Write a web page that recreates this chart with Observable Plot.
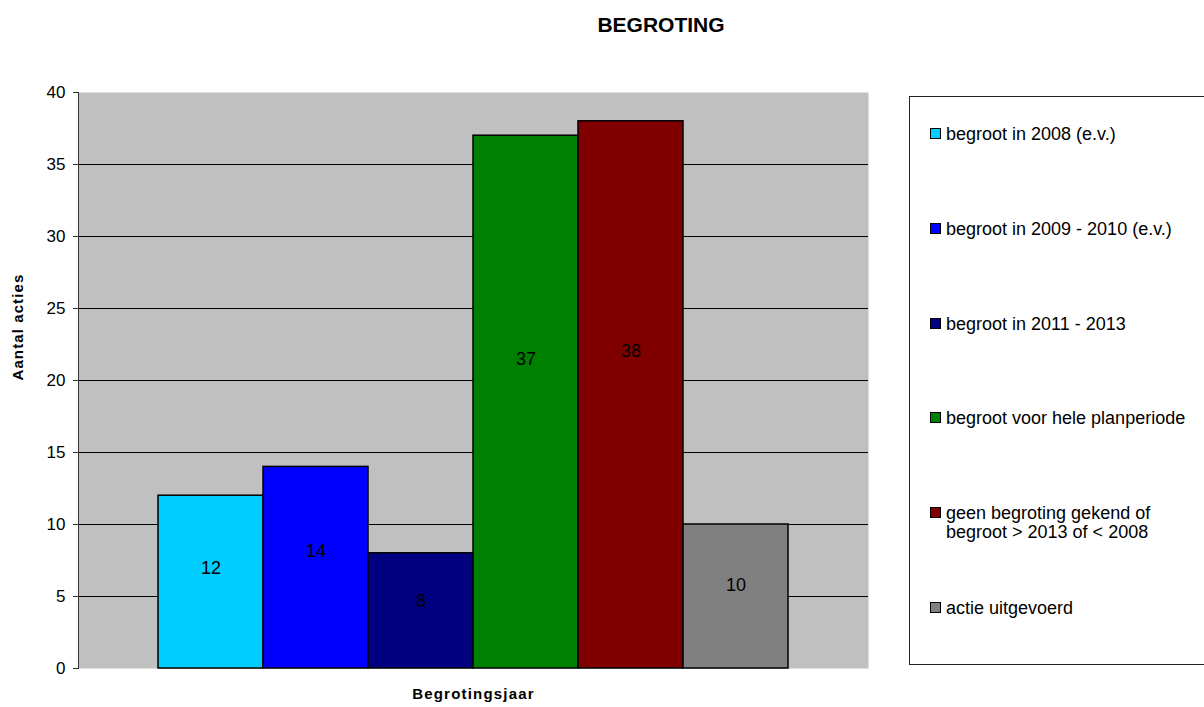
<!DOCTYPE html>
<html>
<head>
<meta charset="utf-8">
<script src="https://cdn.jsdelivr.net/npm/d3@7"></script>
<script src="https://cdn.jsdelivr.net/npm/@observablehq/plot@0.6"></script>
<style>
  html, body { margin: 0; padding: 0; background: #fff; }
  body { font-family: "Liberation Sans", Arial, sans-serif; }
  #wrap { position: relative; width: 1204px; height: 707px; overflow: hidden; }
  #title { position: absolute; left: 461px; width: 400px; top: 14px; text-align: center;
           font-size: 21px; line-height: 21px; font-weight: bold; color: #000; }
  #chart { position: absolute; left: 0; top: 60px; }
  #legend { position: absolute; left: 909px; top: 96px; width: 320px; height: 569px;
            border: 1px solid #222; box-sizing: border-box; }
  .item { position: absolute; left: 20px; font-size: 18px; line-height: 19px; color: #000; }
  .sw { position: absolute; left: 0; top: 3px; width: 9px; height: 9px; border: 1px solid #000; }
  .lt { position: absolute; left: 16px; white-space: nowrap; }
  .ylab text { letter-spacing: 1.1px; }
  .xlab text { letter-spacing: 1.2px; }
</style>
</head>
<body>
<div id="wrap">
  <div id="title"></div>
  <div id="chart"></div>
  <div id="legend"></div>
</div>
<script>
const title = "BEGROTING";
const categories = [
  "begroot in 2008 (e.v.)",
  "begroot in 2009 - 2010 (e.v.)",
  "begroot in 2011 - 2013",
  "begroot voor hele planperiode",
  "geen begroting gekend of\nbegroot > 2013 of < 2008",
  "actie uitgevoerd"
];
const values = [12, 14, 8, 37, 38, 10];
const colors = ["#00CCFF", "#0000FF", "#000080", "#008000", "#800000", "#808080"];
const yTicks = [0, 5, 10, 15, 20, 25, 30, 35, 40];
const gridValues = [5, 10, 15, 20, 25, 30, 35];
const yLabel = "Aantal acties";
const xLabel = "Begrotingsjaar";

const data = categories.map((c, i) => ({name: c, value: values[i]}));

document.getElementById("title").textContent = title;

const plot = Plot.plot({
  width: 880,
  height: 647,
  marginTop: 32,
  marginBottom: 39,
  marginLeft: 78,
  marginRight: 12,
  style: {fontFamily: "Liberation Sans, Arial, sans-serif", background: "transparent", color: "#000"},
  x: {domain: categories, paddingInner: 0, paddingOuter: 0.762, round: false, axis: null},
  y: {domain: [0, 40], axis: null},
  color: {domain: categories, range: colors},
  marks: [
    Plot.frame({fill: "#C0C0C0", stroke: null}),
    Plot.ruleY(gridValues, {stroke: "#000", strokeWidth: 1}),
    Plot.frame({anchor: "left", stroke: "#333", strokeWidth: 1}),
    Plot.axisY({ticks: yTicks, tickSize: 5, tickPadding: 8, fontSize: 17, label: null, stroke: "#333"}),
    Plot.barY(data, {x: "name", y: "value", fill: "name", stroke: "#000", strokeWidth: 1.5}),
    Plot.text(data, {x: "name", y: d => d.value * 0.58, text: d => String(d.value), fontSize: 18, fill: "#000"}),
    Plot.text([yLabel], {frameAnchor: "left", dx: -60, rotate: -90, fontWeight: "bold", fontSize: 15, fill: "#000", className: "ylab"}),
    Plot.text([xLabel], {frameAnchor: "bottom", dy: 30, fontWeight: "bold", fontSize: 15, fill: "#000", className: "xlab"})
  ]
});
document.getElementById("chart").appendChild(plot);

const legend = document.getElementById("legend");
categories.forEach((c, i) => {
  const item = document.createElement("div");
  item.className = "item";
  item.style.top = (28 + i * 94.8) + "px";
  const sw = document.createElement("div");
  sw.className = "sw";
  sw.style.background = colors[i];
  const lt = document.createElement("div");
  lt.className = "lt";
  lt.innerHTML = c.split("\n").map(s => s.replace(/</g, "&lt;").replace(/>/g, "&gt;")).join("<br>");
  item.appendChild(sw);
  item.appendChild(lt);
  legend.appendChild(item);
});
</script>
</body>
</html>
